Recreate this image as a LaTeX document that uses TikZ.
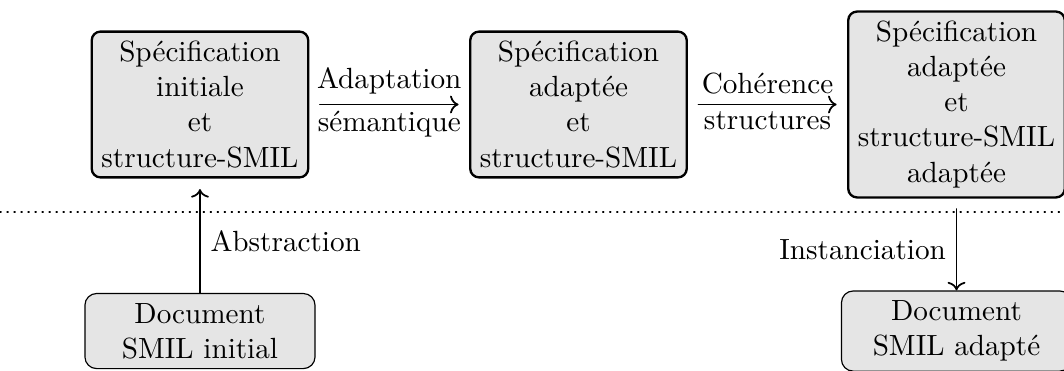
\documentclass[tikz,border=0pt]{standalone}
\usepackage{tikz}
\usetikzlibrary{arrows.meta, calc, positioning}

\tikzset{
  specbox/.style={draw, thick, rounded corners=3pt, fill=gray!20, align=center, outer sep=4pt},
  docbox/.style={draw, rounded corners=4pt, fill=gray!20, align=center, minimum width=78.8pt},
  fleche/.style={->, semithick},
}

\begin{document}
\begin{tikzpicture}[line cap=round, line join=round]
  \useasboundingbox (0,0) rectangle (12.807,4.454);
  % specifications
  \node[specbox] (specinit) at (2.407,3.196) {Spécification\\initiale\\et\\structure-SMIL};
  \node[specbox] (specadapt) at (6.963,3.196) {Spécification\\adaptée\\et\\structure-SMIL};
  \node[specbox] (specstruct) at (11.513,3.196) {Spécification\\adaptée\\et\\structure-SMIL\\adaptée};
  % documents
  \node[docbox] (docinit) at (2.407,0.469) {Document\\SMIL initial};
  \node[docbox] (docadapt) at (11.513,0.469) {Document\\SMIL adapté};
  % separation
  \draw[dotted] (0,1.902) -- (12.807,1.902);
  % transformations
  \draw[fleche] (specinit) -- (specadapt)
    node[midway, above] {Adaptation}
    node[midway, below, inner sep=2pt] {sémantique};
  \draw[fleche] (specadapt) -- (specstruct)
    node[midway, above] {Cohérence}
    node[midway, below, inner sep=2pt] {structures};
  \draw[fleche] (docinit) -- (specinit) node[midway, right] {Abstraction};
  \draw[fleche] (specstruct) -- (docadapt) node[midway, left] {Instanciation};
\end{tikzpicture}
\end{document}
